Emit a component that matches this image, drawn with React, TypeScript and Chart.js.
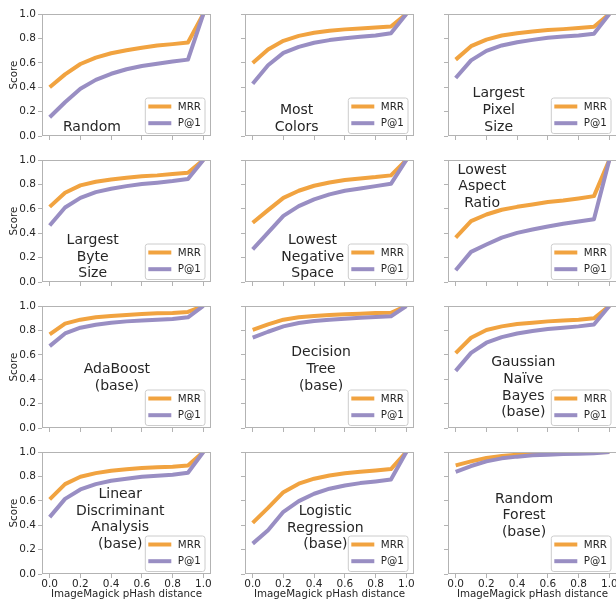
import React, { useEffect, useRef } from "react";
import { Chart, registerables } from "chart.js";

Chart.register(...registerables);

// ---------- data ----------
const xValues = [0, 0.1, 0.2, 0.3, 0.4, 0.5, 0.6, 0.7, 0.8, 0.9, 1.0];
const xTicks = [0, 0.2, 0.4, 0.6, 0.8, 1.0];
const yTicks = [0, 0.2, 0.4, 0.6, 0.8, 1.0];
const seriesLabels = ["MRR", "P@1"];
const xAxisTitle = "ImageMagick pHash distance";
const yAxisTitle = "Score";

const randomMRR = [0.4, 0.505, 0.59, 0.643, 0.678, 0.703, 0.724, 0.741, 0.753, 0.766, 1.0];
const randomP1 = [0.154, 0.277, 0.387, 0.46, 0.51, 0.547, 0.574, 0.593, 0.61, 0.626, 1.0];
const mostColorsMRR = [0.599, 0.709, 0.78, 0.821, 0.846, 0.863, 0.874, 0.882, 0.89, 0.898, 1.0];
const mostColorsP1 = [0.429, 0.58, 0.681, 0.731, 0.764, 0.786, 0.802, 0.813, 0.824, 0.843, 1.0];
const largestPixelMRR = [0.626, 0.736, 0.79, 0.824, 0.843, 0.857, 0.868, 0.876, 0.885, 0.896, 1.0];
const largestPixelP1 = [0.475, 0.62, 0.698, 0.742, 0.769, 0.788, 0.805, 0.816, 0.824, 0.838, 1.0];
const largestByteMRR = [0.616, 0.732, 0.792, 0.822, 0.841, 0.855, 0.866, 0.874, 0.885, 0.896, 1.0];
const largestByteP1 = [0.463, 0.611, 0.69, 0.737, 0.764, 0.786, 0.803, 0.814, 0.827, 0.844, 1.0];
const lowestNegMRR = [0.485, 0.589, 0.69, 0.748, 0.789, 0.816, 0.836, 0.849, 0.86, 0.874, 1.0];
const lowestNegP1 = [0.268, 0.405, 0.542, 0.622, 0.677, 0.718, 0.748, 0.767, 0.786, 0.805, 1.0];
const lowestAspectMRR = [0.364, 0.499, 0.553, 0.592, 0.616, 0.636, 0.655, 0.668, 0.685, 0.704, 1.0];
const lowestAspectP1 = [0.096, 0.247, 0.307, 0.364, 0.403, 0.43, 0.455, 0.477, 0.496, 0.515, 1.0];
const adaBoostMRR = [0.767, 0.855, 0.888, 0.907, 0.918, 0.926, 0.934, 0.94, 0.942, 0.951, 1.0];
const adaBoostP1 = [0.671, 0.775, 0.822, 0.847, 0.863, 0.874, 0.882, 0.888, 0.893, 0.907, 1.0];
const decisionTreeMRR = [0.805, 0.849, 0.888, 0.907, 0.918, 0.926, 0.932, 0.937, 0.942, 0.945, 1.0];
const decisionTreeP1 = [0.74, 0.789, 0.833, 0.86, 0.877, 0.888, 0.896, 0.904, 0.91, 0.915, 1.0];
const gaussianNBMRR = [0.614, 0.74, 0.803, 0.833, 0.852, 0.863, 0.874, 0.882, 0.888, 0.899, 1.0];
const gaussianNBP1 = [0.468, 0.616, 0.699, 0.745, 0.775, 0.795, 0.811, 0.822, 0.833, 0.849, 1.0];
const ldaMRR = [0.611, 0.737, 0.797, 0.827, 0.847, 0.858, 0.868, 0.874, 0.879, 0.89, 1.0];
const ldaP1 = [0.466, 0.616, 0.693, 0.737, 0.764, 0.781, 0.797, 0.805, 0.814, 0.83, 1.0];
const logRegMRR = [0.419, 0.542, 0.671, 0.74, 0.781, 0.808, 0.825, 0.838, 0.849, 0.86, 1.0];
const logRegP1 = [0.249, 0.359, 0.51, 0.597, 0.658, 0.699, 0.726, 0.745, 0.759, 0.775, 1.0];
const randomForestMRR = [0.89, 0.923, 0.951, 0.967, 0.978, 0.986, 0.99, 0.993, 0.995, 0.997, 1.0];
const randomForestP1 = [0.838, 0.885, 0.923, 0.948, 0.962, 0.973, 0.978, 0.984, 0.986, 0.99, 1.0];

const panelTitles = [
  ["Random"],
  ["Most", "Colors"],
  ["Largest", "Pixel", "Size"],
  ["Largest", "Byte", "Size"],
  ["Lowest", "Negative", "Space"],
  ["Lowest", "Aspect", "Ratio"],
  ["AdaBoost", "(base)"],
  ["Decision", "Tree", "(base)"],
  ["Gaussian", "Naïve", "Bayes", "(base)"],
  ["Linear", "Discriminant", "Analysis", "(base)"],
  ["Logistic", "Regression", "(base)"],
  ["Random", "Forest", "(base)"],
];
const panelMRR = [
  randomMRR, mostColorsMRR, largestPixelMRR, largestByteMRR, lowestNegMRR, lowestAspectMRR,
  adaBoostMRR, decisionTreeMRR, gaussianNBMRR, ldaMRR, logRegMRR, randomForestMRR,
];
const panelP1 = [
  randomP1, mostColorsP1, largestPixelP1, largestByteP1, lowestNegP1, lowestAspectP1,
  adaBoostP1, decisionTreeP1, gaussianNBP1, ldaP1, logRegP1, randomForestP1,
];

// ---------- styling / layout ----------
const textAnchors = [
  [0.275, 0.07], [0.286, 0.14], [0.28, 0.209],
  [0.28, 0.205], [0.39, 0.205], [0.172, 0.78],
  [0.437, 0.41], [0.445, 0.48], [0.44, 0.33],
  [0.459, 0.447], [0.473, 0.378], [0.445, 0.479],
];

const ORANGE = "#f1a340";
const PURPLE = "#998ec3";
const TEXT = "#262626";
const SPINE = "#b3b3b3";
const FONT = "DejaVu Sans";
const TICK_SIZE = 10.5;
const TITLE_SIZE = 10.3;

const COL_LEFT = [42, 245, 448];
const ROW_TOP = [14, 160, 306, 452];
const PW = 169;
const PH = 122;
const ML = 42;
const MT = 12;
const MR = 12;
const MB = 30;
const CW = ML + PW + MR;
const CH = MT + PH + MB;

const decorPlugin = {
  id: "panelDecor",
  afterDatasetsDraw(chart: any, _args: any, opts: any) {
    const { ctx, chartArea: ca, scales } = chart;
    ctx.save();
    // spines
    ctx.strokeStyle = SPINE;
    ctx.lineWidth = 1;
    ctx.strokeRect(ca.left + 0.5, ca.top + 0.5, ca.right - ca.left - 1, ca.bottom - ca.top - 1);

    // annotation text
    const lines: string[] = opts.lines || [];
    const [ax, ay] = opts.pos || [0.5, 0.5];
    const cx = scales.x.getPixelForValue(ax);
    const cy = scales.y.getPixelForValue(ay);
    const lh = 16.7;
    ctx.font = `14px "${FONT}"`;
    ctx.fillStyle = TEXT;
    ctx.textAlign = "center";
    ctx.textBaseline = "middle";
    lines.forEach((t, i) => {
      ctx.fillText(t, cx, cy + (i - (lines.length - 1) / 2) * lh);
    });

    // legend
    const ds = chart.data.datasets;
    ctx.font = `10.3px "${FONT}"`;
    const textW = Math.max(...ds.map((d: any) => ctx.measureText(d.label).width));
    const padL = 3.5, handle = 23, gap = 6.5, padR = 3.5;
    const boxW = padL + handle + gap + textW + padR;
    const boxH = 35.5;
    const right = ca.right - 6.5;
    const bottom = ca.bottom - 3;
    const left = right - boxW;
    const top = bottom - boxH;
    ctx.beginPath();
    if (ctx.roundRect) ctx.roundRect(left + 0.5, top + 0.5, boxW, boxH, 2.5);
    else ctx.rect(left + 0.5, top + 0.5, boxW, boxH);
    ctx.fillStyle = "rgba(255,255,255,0.8)";
    ctx.fill();
    ctx.strokeStyle = "#cccccc";
    ctx.lineWidth = 1;
    ctx.stroke();
    ds.forEach((d: any, i: number) => {
      const y = top + 9 + i * 16.7;
      ctx.beginPath();
      ctx.moveTo(left + padL, y);
      ctx.lineTo(left + padL + handle, y);
      ctx.strokeStyle = d.borderColor;
      ctx.lineWidth = 4;
      ctx.lineCap = "butt";
      ctx.stroke();
      ctx.fillStyle = TEXT;
      ctx.textAlign = "left";
      ctx.textBaseline = "middle";
      ctx.fillText(d.label, left + padL + handle + gap, y + 0.5);
    });
    ctx.restore();
  },
};

function Panel({ idx }: { idx: number }) {
  const ref = useRef<HTMLCanvasElement>(null);
  const col = idx % 3;
  const row = Math.floor(idx / 3);
  useEffect(() => {
    const showY = col === 0;
    const showX = row === 3;
    const mk = (arr: number[]) => xValues.map((x, i) => ({ x, y: arr[i] }));
    const chart = new Chart(ref.current as HTMLCanvasElement, {
      type: "line",
      data: {
        datasets: [
          {
            label: seriesLabels[0],
            data: mk(panelMRR[idx]),
            borderColor: ORANGE,
            backgroundColor: ORANGE,
            borderWidth: 4,
            pointRadius: 0,
            tension: 0,
            borderJoinStyle: "round",
            clip: 0,
            order: 2,
          },
          {
            label: seriesLabels[1],
            data: mk(panelP1[idx]),
            borderColor: PURPLE,
            backgroundColor: PURPLE,
            borderWidth: 4,
            pointRadius: 0,
            tension: 0,
            borderJoinStyle: "round",
            clip: 0,
            order: 1,
          },
        ],
      } as any,
      options: {
        animation: false,
        responsive: false,
        maintainAspectRatio: false,
        devicePixelRatio: 1,
        events: [],
        layout: { padding: { left: 0, top: MT, right: MR, bottom: 0 } },
        plugins: {
          legend: { display: false },
          tooltip: { enabled: false },
          panelDecor: { lines: panelTitles[idx], pos: textAnchors[idx] },
        } as any,
        scales: {
          x: {
            type: "linear",
            min: -0.05,
            max: 1.05,
            afterBuildTicks: (s: any) => {
              s.ticks = xTicks.map((v) => ({ value: v }));
            },
            afterFit: (s: any) => {
              s.height = MB;
            },
            ticks: {
              callback: (v: any) => (showX ? Number(v).toFixed(1) : ""),
              color: TEXT,
              font: { family: FONT, size: TICK_SIZE },
              padding: 0,
              maxRotation: 0,
              autoSkip: false,
            },
            grid: { drawOnChartArea: false, drawTicks: true, tickLength: 4, color: SPINE, lineWidth: 1 },
            border: { display: false },
            title: {
              display: showX,
              text: xAxisTitle,
              color: TEXT,
              font: { family: FONT, size: TITLE_SIZE },
              padding: { top: 0, bottom: 3.5 },
            },
          },
          y: {
            type: "linear",
            min: 0,
            max: 1,
            afterBuildTicks: (s: any) => {
              s.ticks = yTicks.map((v) => ({ value: v }));
            },
            afterFit: (s: any) => {
              s.width = ML;
            },
            ticks: {
              callback: (v: any) => (showY ? Number(v).toFixed(1) : ""),
              color: TEXT,
              font: { family: FONT, size: TICK_SIZE },
              padding: 2,
              autoSkip: false,
            },
            grid: { drawOnChartArea: false, drawTicks: true, tickLength: 4, color: SPINE, lineWidth: 1 },
            border: { display: false },
            title: {
              display: showY,
              text: yAxisTitle,
              color: TEXT,
              font: { family: FONT, size: TITLE_SIZE },
              padding: { top: 8.5, bottom: 0 },
            },
          },
        },
      } as any,
      plugins: [decorPlugin],
    });
    return () => chart.destroy();
  }, [idx, col, row]);
  return (
    <canvas
      ref={ref}
      width={CW}
      height={CH}
      style={{
        position: "absolute",
        left: COL_LEFT[col] - ML,
        top: ROW_TOP[row] - MT,
        width: CW,
        height: CH,
      }}
    />
  );
}

export default function App() {
  return (
    <div
      style={{
        position: "absolute",
        left: 0,
        top: 0,
        width: 616,
        height: 602,
        overflow: "hidden",
        background: "#ffffff",
      }}
    >
      {panelTitles.map((_, i) => (
        <Panel key={i} idx={i} />
      ))}
    </div>
  );
}
